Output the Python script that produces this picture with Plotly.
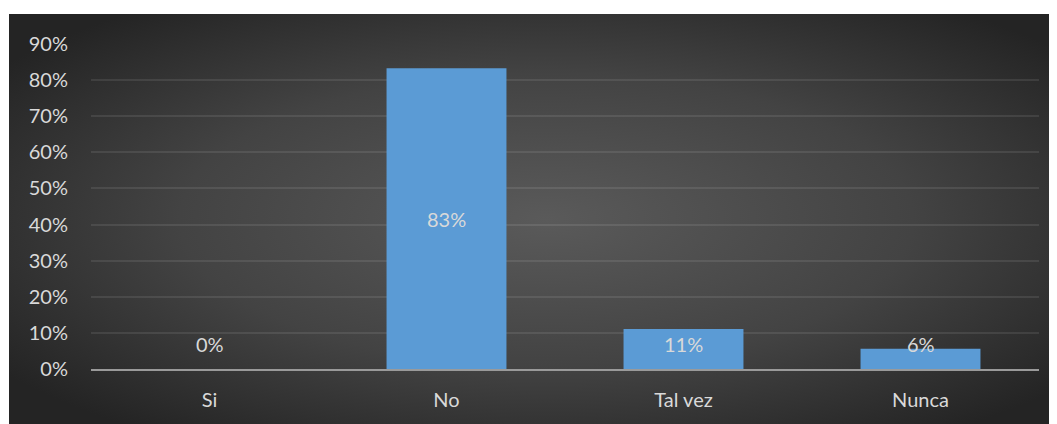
import base64
import plotly.graph_objects as go

categories = ["Si", "No", "Tal vez", "Nunca"]
values = [0.0, 0.833, 0.111, 0.056]
value_labels = ["0%", "83%", "11%", "6%"]
tick_vals = [0, 0.1, 0.2, 0.3, 0.4, 0.5, 0.6, 0.7, 0.8, 0.9]
tick_text = ["0%", "10%", "20%", "30%", "40%", "50%", "60%", "70%", "80%", "90%"]

W, H = 1066, 424
L, R, T, B = 83, 35, 36, 63
pw, ph = W - L - R, H - T - B
BX, BY = 1, 6  # top-left of dark chart area in figure pixels

svg = """<svg xmlns='http://www.w3.org/2000/svg' width='1056' height='426' viewBox='0 0 1056 426' preserveAspectRatio='none'>
<defs><radialGradient id='g' cx='50%' cy='48%' r='62%'>
<stop offset='0' stop-color='#5a5a5a'/><stop offset='0.55' stop-color='#434343'/><stop offset='1' stop-color='#242424'/>
</radialGradient></defs><rect width='1056' height='426' fill='url(#g)'/></svg>"""
bg_src = "data:image/svg+xml;base64," + base64.b64encode(svg.encode()).decode()

FONT = "Lato, Carlito, Calibri, sans-serif"
TXT = "#d9d9d9"
FS = 20

fig = go.Figure()
fig.add_trace(go.Bar(
    x=categories, y=values, width=0.506,
    marker=dict(color="#5b9bd5", line=dict(width=0)),
    hoverinfo="skip",
))

for c, v, t in zip(categories, values, value_labels):
    fig.add_annotation(x=c, y=max(v / 2, 0.069), text=t, showarrow=False,
                       yanchor="middle", font=dict(family=FONT, size=FS, color=TXT))

fig.add_layout_image(dict(
    source=bg_src, xref="paper", yref="paper",
    x=(BX - L) / pw, y=(H - B - BY) / ph,
    sizex=(W + 10 - BX) / pw, sizey=(H + 10 - BY) / ph,
    xanchor="left", yanchor="top", sizing="stretch", layer="below",
))

fig.update_layout(
    width=W, height=H,
    margin=dict(l=L, r=R, t=T, b=B, pad=0),
    paper_bgcolor="white", plot_bgcolor="rgba(0,0,0,0)",
    showlegend=False, bargap=0.494,
    font=dict(family=FONT, size=FS, color=TXT),
)
fig.update_xaxes(
    showgrid=False, showline=True, linecolor="#9a9a9a", linewidth=2,
    ticks="", tickfont=dict(family=FONT, size=FS, color=TXT),
    ticklabelstandoff=12, fixedrange=True,
)
fig.update_yaxes(
    range=[0, 0.9], tickvals=tick_vals, ticktext=tick_text,
    showgrid=True, gridcolor="rgba(255,255,255,0.09)", gridwidth=1.5,
    zeroline=False, showline=False, ticks="",
    tickfont=dict(family=FONT, size=FS, color=TXT),
    ticklabelstandoff=22, fixedrange=True,
)

fig.write_html("out.html")
